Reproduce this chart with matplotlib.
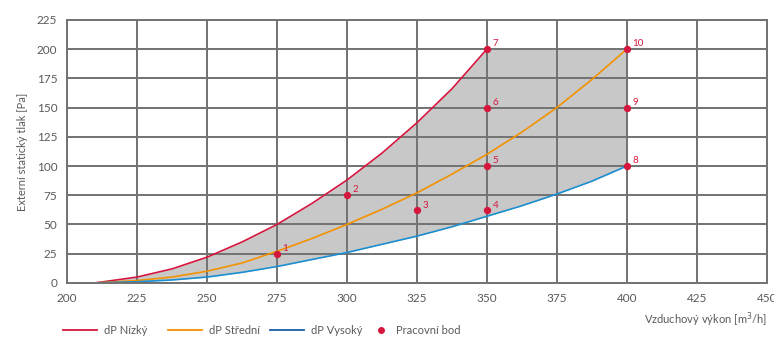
import numpy as np
import matplotlib.pyplot as plt
from matplotlib.lines import Line2D

plt.rcParams['font.family'] = ['Lato', 'DejaVu Sans']

# curves (x in m3/h, y in Pa)
x_nizky = [210, 225, 237.5, 250, 262.5, 275, 287.5, 300, 312.5, 325, 337.5, 350]
y_nizky = [0, 5, 12, 22, 35, 50, 68, 88, 111, 137, 166, 200]

x_curve = [210, 225, 237.5, 250, 262.5, 275, 287.5, 300, 312.5, 325, 337.5, 350,
           362.5, 375, 387.5, 400]
y_stredni = [0, 2, 5, 10, 17, 27, 38, 50, 63, 77, 93, 110, 129, 150, 174, 200]
y_vysoky = [0, 1, 2.5, 5, 9, 14, 20, 26, 33, 40, 48, 57, 66, 76, 87, 100]

# upper edge of the working area (red curve, then capped at 200 Pa)
y_top = [0, 5, 12, 22, 35, 50, 68, 88, 111, 137, 166, 200, 200, 200, 200, 200]

# working points
bod_x = [275, 300, 325, 350, 350, 350, 350, 400, 400, 400]
bod_y = [25, 75, 62, 62, 100, 150, 200, 100, 150, 200]
bod_lbl = ['1', '2', '3', '4', '5', '6', '7', '8', '9', '10']

c_red = '#d5173e'
c_orange = '#f39200'
c_blue = '#1b8fd2'
c_blue_leg = '#1a5ea6'
c_grid = '#727272'
c_text = '#5a5a5a'

fig = plt.figure(figsize=(7.74, 3.38), dpi=100)
ax = fig.add_axes([0.0866, 0.163, 0.904, 0.778])

ax.fill_between(x_curve, y_vysoky, y_top, color='#c8c8c8', lw=0)
ax.plot(x_nizky, y_nizky, color=c_red, lw=1.2)
ax.plot(x_curve, y_stredni, color=c_orange, lw=1.2)
ax.plot(x_curve, y_vysoky, color=c_blue, lw=1.2)
ax.scatter(bod_x, bod_y, s=28, color=c_red, zorder=5, lw=0)
for xx, yy, t in zip(bod_x, bod_y, bod_lbl):
    ax.annotate(t, (xx, yy), xytext=(4, 2), textcoords='offset points',
                fontsize=7, color=c_red)

ax.set_xlim(200, 450)
ax.set_ylim(0, 225)
ax.set_xticks(np.arange(200, 451, 25))
ax.set_yticks(np.arange(0, 226, 25))
ax.grid(True, color=c_grid, lw=1.4)
for s in ax.spines.values():
    s.set_color(c_grid)
    s.set_linewidth(1.4)
ax.tick_params(length=0, labelsize=8.5, labelcolor=c_text, pad=7)

ax.set_ylabel('Externí statický tlak [Pa]', fontsize=8, color=c_text, labelpad=6)
fig.text(0.991, 0.053, 'Vzduchový výkon [m$^3$/h]', fontsize=8,
         color=c_text, ha='right', va='center')

# legend entries, each placed where the reference has it
handles = [
    Line2D([], [], color=c_red, lw=1.3),
    Line2D([], [], color=c_orange, lw=1.3),
    Line2D([], [], color=c_blue_leg, lw=1.3),
    Line2D([], [], color=c_red, lw=0, marker='o', markersize=4),
]
labels = ['dP Nízký', 'dP Střední', 'dP Vysoký', 'Pracovní bod']
leg_x = [63, 168, 270, 372]
leg_len = [3.1, 3.1, 3.1, 1.6]
for h, lab, lx, hl in zip(handles, labels, leg_x, leg_len):
    lg = fig.legend([h], [lab], loc='center left', bbox_to_anchor=(lx / 774, 0.022),
                    frameon=False, fontsize=8, handlelength=hl, handletextpad=0.6,
                    borderpad=0, borderaxespad=0)
    for t in lg.get_texts():
        t.set_color(c_text)

fig.savefig('out.png', dpi=100)
